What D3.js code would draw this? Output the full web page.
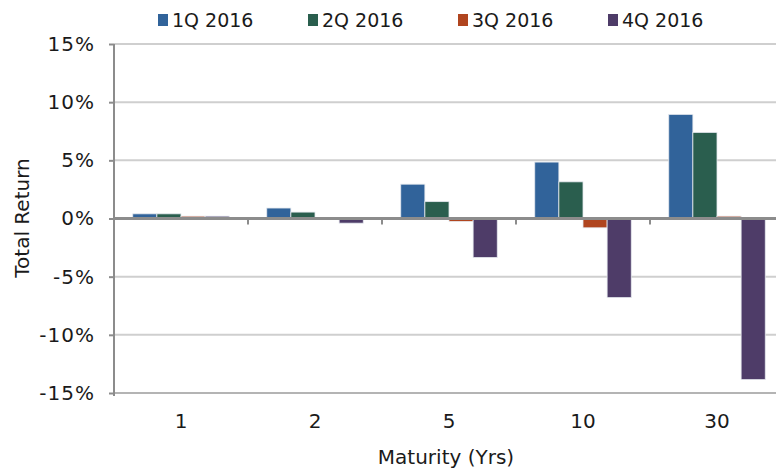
<!DOCTYPE html>
<meta charset="utf-8">
<head>
<style>
  body { margin: 0; background: #fff; }
  text { font-family: "DejaVu Sans", sans-serif; fill: #1a1a1a; }
</style>
</head>
<body>
<script src="https://d3js.org/d3.v7.min.js"></script>
<svg id="chart"></svg>
<script>

// maturities (x categories) and quarterly total returns in %
var maturities = ["1", "2", "5", "10", "30"];
var quarters = ["1Q 2016", "2Q 2016", "3Q 2016", "4Q 2016"];
var q1 = [0.4, 0.9, 2.95, 4.85, 8.95];
var q2 = [0.4, 0.55, 1.45, 3.15, 7.4];
var q3 = [0.2, 0.0, -0.25, -0.8, 0.2];
var q4 = [0.2, -0.4, -3.35, -6.8, -13.85];
var yTicks = [-15, -10, -5, 0, 5, 10, 15];

var colors = ["#31639a", "#2a5e4e", "#b0451f", "#4e3c68"];
var series = [q1, q2, q3, q4];

var width = 776,
    height = 471;

var svg = d3.select("#chart")
  .attr("width", width)
  .attr("height", height);

var x0 = d3.scaleBand()
  .domain(maturities)
  .range([114, 784])
  .paddingInner(0.28)
  .paddingOuter(0.14);

var x1 = d3.scaleBand()
  .domain(d3.range(quarters.length))
  .range([0, x0.bandwidth()]);

var y = d3.scaleLinear()
  .domain([-15, 15])
  .range([393, 44]);

// gridlines
svg.append("g")
  .selectAll("line")
  .data(yTicks.filter(function(d){ return d !== 0; }))
  .enter().append("line")
  .attr("x1", 114)
  .attr("x2", width)
  .attr("y1", function(d){ return y(d); })
  .attr("y2", function(d){ return y(d); })
  .attr("stroke", function(d){ return d === -15 ? "#b4b4b4" : "#cfcfcf"; })
  .attr("stroke-width", 2);

// y axis
var yAxis = svg.append("g")
  .attr("transform", "translate(114,0)")
  .call(d3.axisLeft(y).tickValues(yTicks).tickSize(5).tickPadding(14)
    .tickFormat(function(d){ return d + "%"; }));
yAxis.select(".domain").attr("stroke", "#8c8c8c").attr("stroke-width", 2)
  .attr("d", "M0," + y(15) + "V" + (y(-15) + 3));
yAxis.selectAll(".tick line").attr("stroke", "#8c8c8c").attr("stroke-width", 2);
yAxis.selectAll(".tick text")
  .style("font-size", "20px")
  .style("letter-spacing", "1px")
  .attr("fill", "#1a1a1a");

// bars
var groups = svg.append("g")
  .selectAll("g")
  .data(maturities)
  .enter().append("g")
  .attr("transform", function(d){ return "translate(" + x0(d) + ",0)"; });

groups.selectAll("rect")
  .data(function(d, i){ return series.map(function(s, k){ return {k: k, v: s[i]}; }); })
  .enter().append("rect")
  .attr("x", function(d){ return x1(d.k); })
  .attr("width", x1.bandwidth())
  .attr("y", function(d){ return y(Math.max(0, d.v)); })
  .attr("height", function(d){ return Math.abs(y(d.v) - y(0)); })
  .attr("fill", function(d){ return colors[d.k]; })
  .attr("stroke", "#e4e8ee")
  .attr("stroke-width", 0.8);

// zero line with category boundary ticks
svg.append("line")
  .attr("x1", 114).attr("x2", width)
  .attr("y1", y(0)).attr("y2", y(0))
  .attr("stroke", "#8c8c8c").attr("stroke-width", 3);

svg.append("g")
  .selectAll("line")
  .data(d3.range(maturities.length + 1))
  .enter().append("line")
  .attr("x1", function(i){ return x0.range()[0] + i * x0.step(); })
  .attr("x2", function(i){ return x0.range()[0] + i * x0.step(); })
  .attr("y1", y(0))
  .attr("y2", y(0) + 6)
  .attr("stroke", "#8c8c8c").attr("stroke-width", 2);

// category labels
svg.append("g")
  .selectAll("text")
  .data(maturities)
  .enter().append("text")
  .attr("x", function(d){ return x0(d) + x0.bandwidth() / 2; })
  .attr("y", 428)
  .attr("text-anchor", "middle")
  .style("font-size", "20px")
  .text(function(d){ return d; });

// axis titles
svg.append("text")
  .attr("x", 446)
  .attr("y", 464)
  .attr("text-anchor", "middle")
  .style("font-size", "20px")
  .text("Maturity (Yrs)");

svg.append("text")
  .attr("transform", "translate(29,218) rotate(-90)")
  .attr("text-anchor", "middle")
  .style("font-size", "20px")
  .text("Total Return");

// legend
var legend = svg.append("g")
  .selectAll("g")
  .data(quarters)
  .enter().append("g")
  .attr("transform", function(d, i){ return "translate(" + (158 + i * 150) + ",0)"; });

legend.append("rect")
  .attr("x", 0).attr("y", 14)
  .attr("width", 10).attr("height", 12)
  .attr("fill", function(d, i){ return colors[i]; });

legend.append("text")
  .attr("x", 14)
  .attr("y", 27)
  .style("font-size", "19px")
  .text(function(d){ return d; });

</script>
</body>
